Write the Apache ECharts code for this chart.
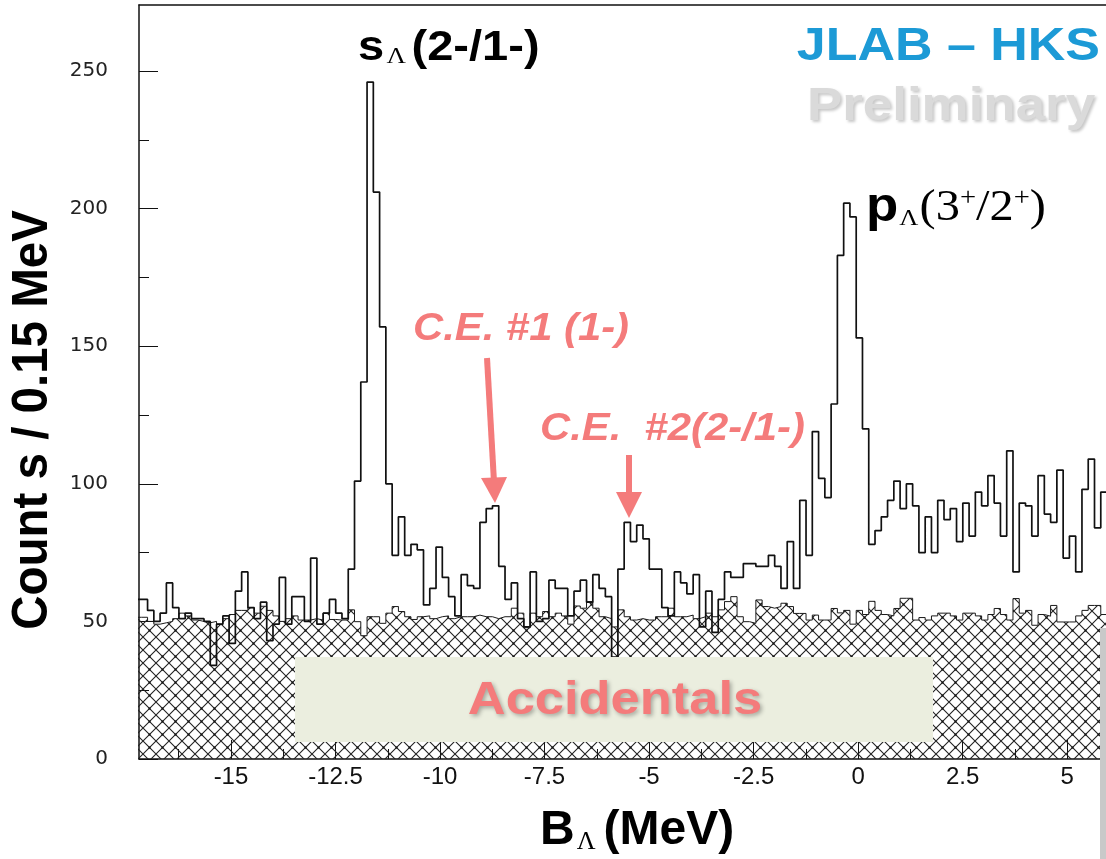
<!DOCTYPE html>
<html>
<head>
<meta charset="utf-8">
<title>HKS B_Lambda spectrum</title>
<script src="https://cdn.jsdelivr.net/npm/echarts@6/dist/echarts.min.js"></script>
<style>
  html, body { margin: 0; padding: 0; background: #fff; }
  #chart { width: 1106px; height: 859px; }
</style>
</head>
<body>
<div id="chart"></div>
<script>
// binning of the histogram (MeV)
const binStart = -17.295;
const binWidth = 0.15;
const xMin = -17.2;
const xMax = 5.93;

// counts per 0.15 MeV bin
const signalCounts = [
  58, 58, 54, 50, 53, 64, 55, 51, 53, 51, 51, 50, 34, 49, 52, 42, 61, 68, 55, 51,
  57, 43, 49, 66, 49, 59, 59, 50, 73, 49, 53, 58, 53, 51, 69, 101, 137, 246, 206, 157,
  100, 74, 88, 74, 78, 76, 56, 62, 77, 66, 59, 52, 67, 63, 62, 86, 91, 92, 70, 58,
  64, 51, 48, 68, 50, 51, 65, 62, 62, 52, 61, 65, 57, 67, 62, 59, 37, 69, 86, 79,
  85, 80, 69, 69, 55, 52, 68, 64, 60, 67, 48, 61, 46, 58, 68, 66, 66, 71, 71, 70,
  70, 74, 70, 62, 79, 62, 94, 74, 119, 102, 95, 129, 183, 202, 197, 153, 120, 78, 83, 88,
  94, 101, 91, 100, 92, 75, 88, 75, 94, 87, 91, 79, 93, 81, 97, 92, 103, 93, 81, 112,
  68, 93, 92, 81, 103, 89, 86, 105, 73, 81, 68, 98, 109, 84, 97, 97
];
const accidentalCounts = [
  51.5, 51.5, 50, 49, 49.5, 50, 51, 53, 52, 50.5, 50, 49.5, 50, 49, 51, 52.5, 54, 54, 55, 53,
  55.5, 54, 52, 50, 51, 52, 50.5, 50.5, 51, 50.5, 53, 50.7, 50.5, 50.5, 54.2, 49.9, 44.8, 51.7, 51.7, 49.3,
  53, 55.4, 53.6, 51.7, 50.7, 51.7, 52, 51, 51.7, 52, 51, 51.7, 51.7, 51.7, 52.3, 51.7, 51.7, 51, 51.7, 51.7,
  54.8, 53, 47.7, 53, 51.7, 53.6, 51.7, 53, 52, 49, 55.6, 54.8, 57.2, 54.8, 51.7, 51, 48, 54.2, 51.7, 50.5,
  51, 50.5, 50.5, 51.7, 51.7, 54.8, 51.7, 51.7, 52.3, 51, 51.7, 53, 51.7, 54.2, 57.2, 59, 51.7, 49.9, 49.3, 57.8,
  55.4, 54.8, 55.4, 56.6, 55.4, 52.9, 52.9, 50.5, 52.3, 50.5, 50.5, 54.7, 53.1, 54, 49, 54, 52.5, 57.3, 54, 52.5,
  52, 54.7, 58.4, 58.4, 50.5, 51.4, 50.5, 52, 53, 53, 52, 50.5, 53, 53, 52, 50.5, 52.5, 54.7, 52.5, 50.5,
  58.3, 53, 54, 48.6, 52.5, 51.9, 55.8, 49.8, 49.8, 49.8, 52, 54, 55.8, 55.8, 52.5, 52.5
];

// axis ticks
const xTicks = [-15, -12.5, -10, -7.5, -5, -2.5, 0, 2.5, 5];
const xMinorTicks = [-16.25, -13.75, -11.25, -8.75, -6.25, -3.75, -1.25, 1.25, 3.75];
const yTicks = [0, 50, 100, 150, 200, 250];
const yMinorTicks = [25, 75, 125, 175, 225];

const SANS = "'Liberation Sans', Arial, Helvetica, sans-serif";
const SERIF = "'Liberation Serif', 'Times New Roman', serif";
const SALMON = '#F47B7B';

// histogram outline: one point per bin edge, held with step 'end'
function stepPoints(counts) {
  const pts = counts.map((c, i) => [binStart + i * binWidth, c]);
  pts.push([binStart + counts.length * binWidth, counts[counts.length - 1]]);
  return pts;
}

// cross hatch used for the accidental background
function hatchCanvas() {
  const s = 13;
  const c = document.createElement('canvas');
  c.width = s;
  c.height = s;
  const ctx = c.getContext('2d');
  ctx.strokeStyle = '#222';
  ctx.lineWidth = 1.1;
  ctx.beginPath();
  ctx.moveTo(0, 0); ctx.lineTo(s, s);
  ctx.moveTo(s, 0); ctx.lineTo(0, s);
  ctx.stroke();
  ctx.fillStyle = '#111';
  ctx.fillRect(s / 2 - 1, s / 2 - 1, 2, 2);
  return c;
}

const chart = echarts.init(document.getElementById('chart'));

const axisLine = { show: true, onZero: false, lineStyle: { color: '#111', width: 1.5 } };
const noLine = { show: false, onZero: false };

chart.setOption({
  animation: false,
  backgroundColor: '#fff',
  grid: { left: 139, right: 0, top: 5, bottom: 100 },
  xAxis: [
    {
      type: 'value', min: xMin, max: xMax, position: 'bottom',
      axisLine: axisLine,
      axisTick: { show: true, inside: true, length: 19, customValues: xTicks, lineStyle: { color: '#111' } },
      axisLabel: {
        customValues: xTicks, margin: 6, color: '#111', fontSize: 24,
        fontFamily: "'Liberation Sans Narrow', 'Arial Narrow', " + SANS
      },
      splitLine: { show: false }
    },
    {
      // minor ticks
      type: 'value', min: xMin, max: xMax, position: 'bottom',
      axisLine: noLine,
      axisTick: { show: true, inside: true, length: 10, customValues: xMinorTicks, lineStyle: { color: '#111' } },
      axisLabel: { show: false },
      splitLine: { show: false }
    },
    {
      // top frame
      type: 'value', min: xMin, max: xMax, position: 'top',
      axisLine: axisLine, axisTick: { show: false }, axisLabel: { show: false }, splitLine: { show: false }
    }
  ],
  yAxis: [
    {
      type: 'value', min: 0, max: 274, position: 'left',
      axisLine: axisLine,
      axisTick: { show: true, inside: true, length: 19, customValues: yTicks, lineStyle: { color: '#111' } },
      axisLabel: { customValues: yTicks, margin: 31, color: '#222', fontSize: 20, fontFamily: "'DejaVu Sans', sans-serif" },
      splitLine: { show: false }
    },
    {
      type: 'value', min: 0, max: 274, position: 'left',
      axisLine: noLine,
      axisTick: { show: true, inside: true, length: 10, customValues: yMinorTicks, lineStyle: { color: '#111' } },
      axisLabel: { show: false },
      splitLine: { show: false }
    }
  ],
  series: [
    {
      name: 'Accidentals',
      type: 'line',
      step: 'end',
      symbol: 'none',
      data: stepPoints(accidentalCounts),
      lineStyle: { color: '#1a1a1a', width: 1 },
      areaStyle: { color: { image: hatchCanvas(), repeat: 'repeat' }, opacity: 1 },
      z: 2
    },
    {
      name: 'Data',
      type: 'line',
      step: 'end',
      symbol: 'none',
      data: stepPoints(signalCounts),
      lineStyle: { color: '#111', width: 1.7 },
      z: 3
    }
  ],
  graphic: [
    // accidentals label box
    { type: 'rect', z: 50, shape: { x: 295, y: 657, width: 638, height: 85 }, style: { fill: '#EBEEDF' } },
    {
      type: 'text', z: 51, x: 615, y: 701, scaleX: 1.14,
      style: {
        text: 'Accidentals', align: 'center', verticalAlign: 'middle',
        fontFamily: SANS, fontWeight: 'bold', fontSize: 46, fill: SALMON,
        textShadowColor: 'rgba(0,0,0,0.3)', textShadowBlur: 4, textShadowOffsetX: 2, textShadowOffsetY: 2
      }
    },
    // gray slide bar at the right
    { type: 'rect', z: 50, shape: { x: 1100, y: 628, width: 6, height: 231 }, style: { fill: '#C9C9C9' } },
    // axis titles
    {
      type: 'text', z: 50, x: 33, y: 420, rotation: Math.PI / 2, scaleX: 0.95,
      style: {
        text: 'Count s / 0.15 MeV', align: 'center', verticalAlign: 'middle',
        fontFamily: SANS, fontWeight: 'bold', fontSize: 50, fill: '#000'
      }
    },
    {
      type: 'text', z: 50, x: 540, y: 831,
      style: {
        text: '{m|B}{sub|Λ}{m|(MeV)}', align: 'left', verticalAlign: 'middle',
        rich: {
          m: { fontFamily: SANS, fontWeight: 'bold', fontSize: 48, lineHeight: 48, fill: '#000' },
          sub: { fontFamily: SERIF, fontSize: 26, lineHeight: 10, verticalAlign: 'bottom', fill: '#000', padding: [0, 8, 0, 2] }
        }
      }
    },
    // peak labels
    {
      type: 'text', z: 50, x: 358, y: 48, scaleX: 1.12,
      style: {
        text: '{m|s}{sub|Λ}{m|(2-/1-)}', align: 'left', verticalAlign: 'middle',
        rich: {
          m: { fontFamily: SANS, fontWeight: 'bold', fontSize: 42, lineHeight: 42, fill: '#000' },
          sub: { fontFamily: SERIF, fontSize: 24, lineHeight: 10, verticalAlign: 'bottom', fill: '#000', padding: [0, 5, 0, 2] }
        }
      }
    },
    {
      type: 'text', z: 50, x: 866, y: 208, scaleX: 1.1,
      style: {
        text: '{m|p}{sub|Λ}{r|(3}{sup|+}{r|/2}{sup|+}{r|)}', align: 'left', verticalAlign: 'middle',
        rich: {
          m: { fontFamily: SANS, fontWeight: 'bold', fontSize: 48, lineHeight: 46, fill: '#000' },
          sub: { fontFamily: SERIF, fontSize: 24, lineHeight: 10, verticalAlign: 'bottom', fill: '#000', padding: [0, 1, 0, 1] },
          r: { fontFamily: SERIF, fontSize: 44, lineHeight: 46, fill: '#000' },
          sup: { fontFamily: SERIF, fontSize: 26, lineHeight: 36, verticalAlign: 'top', fill: '#000' }
        }
      }
    },
    // experiment tags
    {
      type: 'text', z: 50, x: 1100, y: 47, scaleX: 1.13,
      style: { text: 'JLAB – HKS', align: 'right', verticalAlign: 'middle', fontFamily: SANS, fontWeight: 'bold', fontSize: 46, fill: '#1C9AD6' }
    },
    {
      type: 'text', z: 50, x: 951, y: 107, scaleX: 1.15,
      style: {
        text: 'Preliminary', align: 'center', verticalAlign: 'middle', fontFamily: SANS, fontWeight: 'bold', fontSize: 46, fill: '#DADADA',
        textShadowColor: 'rgba(0,0,0,0.22)', textShadowBlur: 3, textShadowOffsetX: 2, textShadowOffsetY: 2
      }
    },
    // core-excited state labels and arrows
    {
      type: 'text', z: 50, x: 413, y: 330, scaleX: 1.1,
      style: { text: 'C.E. #1 (1-)', align: 'left', verticalAlign: 'middle', fontFamily: SANS, fontWeight: 'bold', fontStyle: 'italic', fontSize: 38, fill: SALMON }
    },
    {
      type: 'text', z: 50, x: 540, y: 430, scaleX: 1.1,
      style: { text: 'C.E.  #2(2-/1-)', align: 'left', verticalAlign: 'middle', fontFamily: SANS, fontWeight: 'bold', fontStyle: 'italic', fontSize: 38, fill: SALMON }
    },
    { type: 'line', z: 50, shape: { x1: 487, y1: 358, x2: 494, y2: 482 }, style: { stroke: SALMON, lineWidth: 6 } },
    { type: 'polygon', z: 50, shape: { points: [[481, 478], [507, 477], [495, 503]] }, style: { fill: SALMON } },
    { type: 'line', z: 50, shape: { x1: 629, y1: 455, x2: 629, y2: 495 }, style: { stroke: SALMON, lineWidth: 6 } },
    { type: 'polygon', z: 50, shape: { points: [[616, 492], [642, 492], [629, 518]] }, style: { fill: SALMON } }
  ]
});

window.addEventListener('resize', () => chart.resize());
</script>
</body>
</html>
